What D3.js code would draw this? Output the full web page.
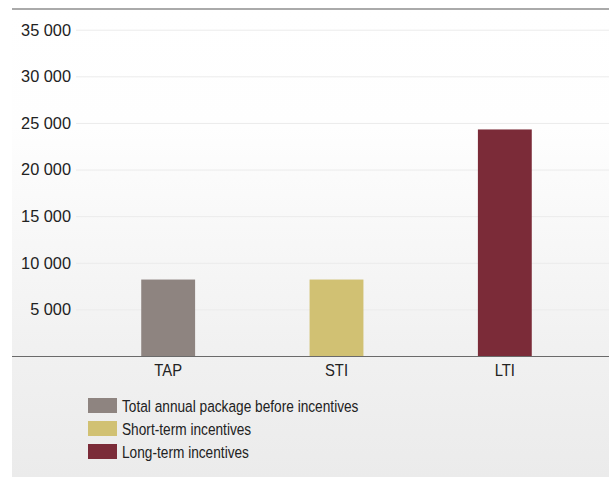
<!DOCTYPE html>
<html><head><meta charset="utf-8">
<script src="https://cdn.jsdelivr.net/npm/d3@7"></script>
<style>body{margin:0;background:#fff}svg{display:block;font-family:"Liberation Sans",Arial,sans-serif}</style>
</head><body>
<svg id="c" width="609" height="477"></svg>
<script>
const categories = ["TAP", "STI", "LTI"];
const values = [8200, 8200, 24300];
const colors = ["#8e8480", "#d1c173", "#7b2b38"];
const legendLabels = ["Total annual package before incentives", "Short-term incentives", "Long-term incentives"];
const yTicks = [5000, 10000, 15000, 20000, 25000, 30000, 35000];

const svg = d3.select("#c");
const defs = svg.append("defs");
const g = defs.append("linearGradient").attr("id","bg").attr("x1",0).attr("y1",0).attr("x2",0).attr("y2",1);
g.append("stop").attr("offset","0%").attr("stop-color","#ffffff");
g.append("stop").attr("offset","25%").attr("stop-color","#fefefe");
g.append("stop").attr("offset","72%").attr("stop-color","#f1f1f1");
g.append("stop").attr("offset","100%").attr("stop-color","#ebebeb");

svg.append("rect").attr("x",12).attr("y",9).attr("width",597).attr("height",468).attr("fill","url(#bg)");
svg.append("rect").attr("x",12).attr("y",8).attr("width",597).attr("height",2).attr("fill","#aaaaaa");

const y = d3.scaleLinear().domain([0, 35000]).range([356, 29.7]);
const x = d3.scaleBand().domain(categories).range([84, 589]).paddingInner(0.68).paddingOuter(0.34);

const fmt = v => d3.format(",")(v).replace(/,/g, " ");

// gridlines + y labels
const yAxis = d3.axisLeft(y).tickValues(yTicks).tickSize(-(609-76)).tickFormat(fmt).tickPadding(6);
const ya = svg.append("g").attr("transform","translate(76,0)").call(yAxis);
ya.select(".domain").remove();
ya.selectAll(".tick line").attr("stroke","#ebebeb").attr("stroke-width",1);
ya.selectAll(".tick text").attr("fill","#222").attr("font-size",17).attr("x",-5.2)
  .attr("transform","scale(0.96,1)");

// bars
svg.selectAll("rect.bar").data(values).join("rect").attr("class","bar")
  .attr("x",(d,i)=>x(categories[i])).attr("width",x.bandwidth())
  .attr("y",d=>y(d)).attr("height",d=>y(0)-y(d))
  .attr("fill",(d,i)=>colors[i]);

// x axis
const xa = svg.append("g").attr("transform",`translate(0,${y(0)})`).call(d3.axisBottom(x).tickSize(0).tickPadding(8));
xa.select(".domain").remove();
xa.selectAll(".tick text").attr("fill","#222").attr("font-size",17).attr("transform","scale(0.87,1)");
svg.append("line").attr("x1",12).attr("x2",609).attr("y1",y(0)+0.5).attr("y2",y(0)+0.5).attr("stroke","#6a6a6a").attr("stroke-width",1);

// legend
const lg = svg.append("g").attr("transform","translate(88,398)");
const row = lg.selectAll("g").data(legendLabels).join("g").attr("transform",(d,i)=>`translate(0,${i*23})`);
row.append("rect").attr("width",29).attr("height",15).attr("fill",(d,i)=>colors[i]);
row.append("g").attr("transform","translate(34,14) scale(0.805,1)")
  .append("text").attr("font-size",17).attr("fill","#222").text(d=>d);
</script>
</body></html>
